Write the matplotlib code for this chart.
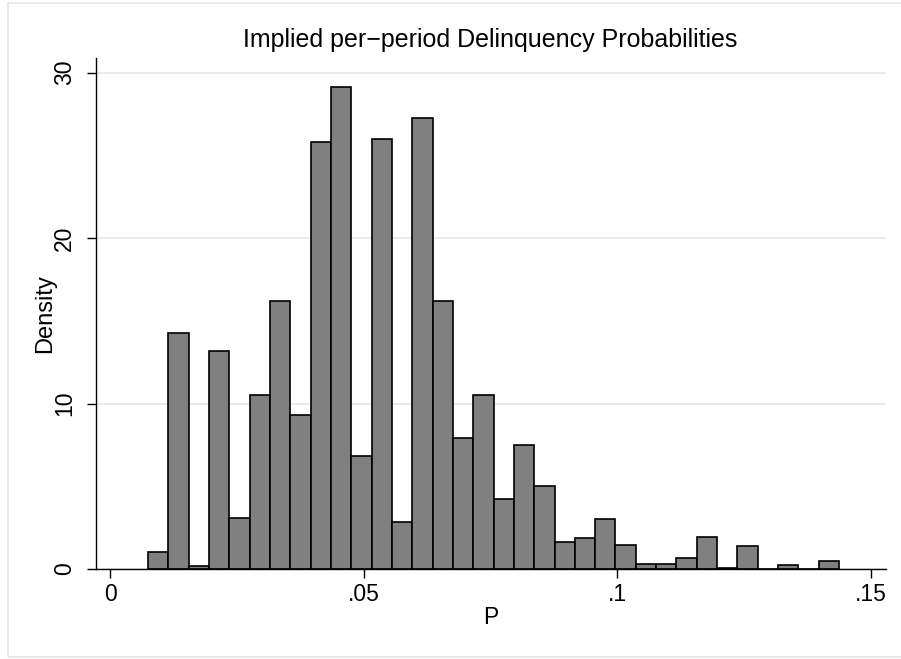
import matplotlib
matplotlib.use("Agg")
import matplotlib.pyplot as plt
from matplotlib.patches import Rectangle
import numpy as np

plt.rcParams['font.family'] = ['Liberation Sans', 'DejaVu Sans']

# Histogram data (density per bin)
bin_start = 0.0075
bin_width = 0.004006
density = [1.02, 14.28, 0.16, 13.16, 3.07, 10.53, 16.17, 9.32, 25.80, 29.14,
           6.84, 25.96, 2.85, 27.25, 16.17, 7.89, 10.53, 4.22, 7.50, 5.04,
           1.62, 1.86, 3.01, 1.45, 0.30, 0.30, 0.65, 1.96, 0.08, 1.39,
           0.00, 0.26, 0.00, 0.50]
x_ticks = [0, 0.05, 0.10, 0.15]
x_ticklabels = ["0", ".05", ".1", ".15"]
y_ticks = [0, 10, 20, 30]
y_ticklabels = ["0", "10", "20", "30"]
title = "Implied per\u2212period Delinquency Probabilities"
xlabel = "P"
ylabel = "Density"

W, H = 901, 659
fig = plt.figure(figsize=(W / 100, H / 100), dpi=100)
fig.patch.set_facecolor("white")

# outer light border
fig.patches.append(Rectangle((7.5 / W, (H - 657) / H), (W + 10) / W, (657 - 2.5) / H,
                             transform=fig.transFigure, fill=False,
                             edgecolor="#e6e6e6", linewidth=1.2, zorder=0))

left, right, top, bottom = 96, 885.7, 58, 569
ax = fig.add_axes([left / W, (H - bottom) / H, (right - left) / W, (bottom - top) / H])

edges = bin_start + bin_width * np.arange(len(density))
ax.bar(edges, density, width=bin_width, align="edge", color="#808080",
       edgecolor="black", linewidth=1.2, zorder=3)

ax.set_xlim(-0.00276, 0.1529)
ax.set_ylim(0, 30.88)

for s in ["top", "right"]:
    ax.spines[s].set_visible(False)
for s in ["left", "bottom"]:
    ax.spines[s].set_linewidth(1.0)
    ax.spines[s].set_zorder(4)

ax.set_yticks(y_ticks)
ax.set_yticklabels(y_ticklabels, rotation=90, va="center")
ax.set_xticks(x_ticks)
ax.set_xticklabels(x_ticklabels)
ax.tick_params(axis="y", length=6.5, width=1.0, pad=8, labelsize=16.5)
ax.tick_params(axis="x", length=6.5, width=1.0, pad=3.5, labelsize=16.5)

ax.yaxis.grid(True, color="#e8e8e8", linewidth=1.2, zorder=0)
ax.set_axisbelow(True)

fig.text(490 / W, 1 - 47 / H, title, ha="center", va="baseline", fontsize=18)
fig.text(490.5 / W, 1 - 617 / H, xlabel, ha="center", va="center", fontsize=16.5)
fig.text(45 / W, 1 - 313.5 / H, ylabel, ha="center", va="center", rotation=90, fontsize=17)

fig.savefig("out.png", dpi=100)
